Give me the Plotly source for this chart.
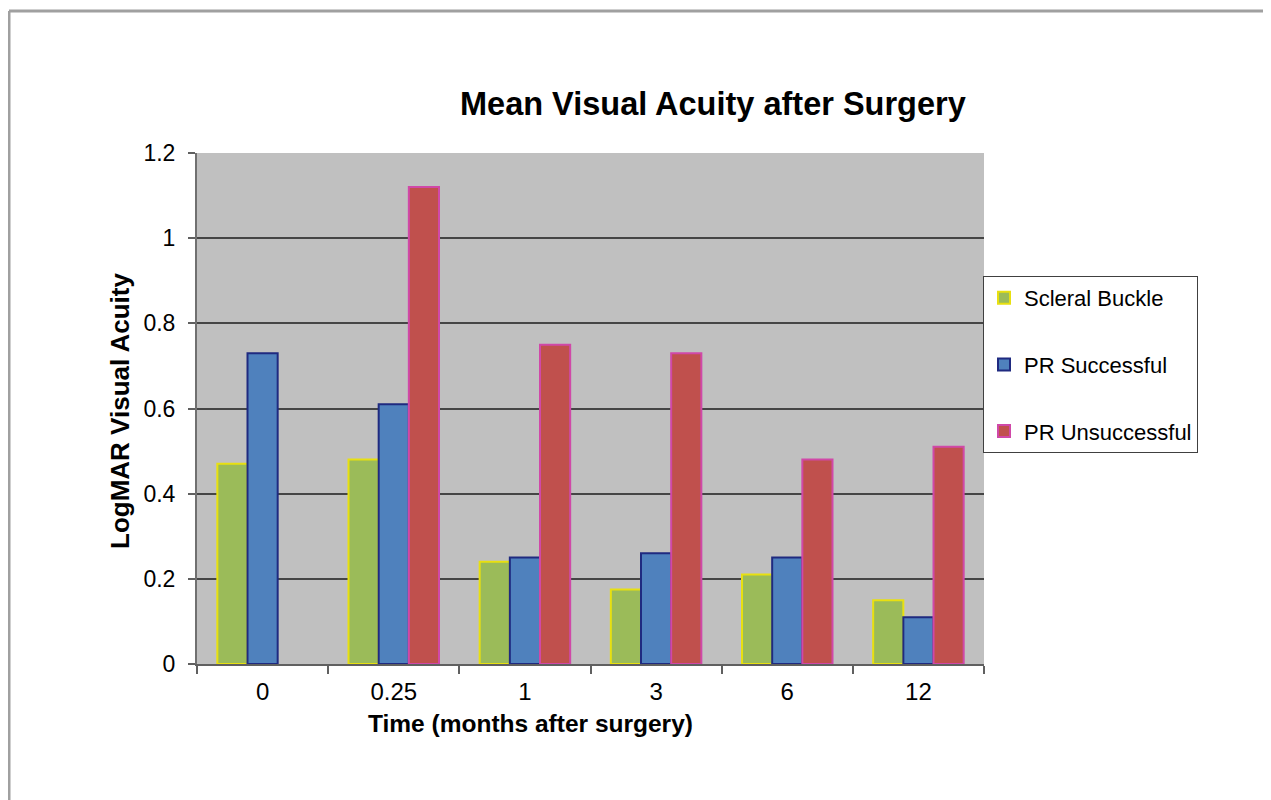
import plotly.graph_objects as go

# Data
categories = ["0", "0.25", "1", "3", "6", "12"]
scleral_buckle = [0.47, 0.48, 0.24, 0.175, 0.21, 0.15]
pr_successful = [0.73, 0.61, 0.25, 0.26, 0.25, 0.11]
pr_unsuccessful = [None, 1.12, 0.75, 0.73, 0.48, 0.51]
series_names = ["Scleral Buckle", "PR Successful", "PR Unsuccessful"]

fills = ["#9bbb59", "#4f81bd", "#c0504d"]
outlines = ["#e8e010", "#1f2a80", "#d048a8"]

OFF = 8  # page body margin
W, H = 1271 - OFF, 800 - OFF
L, R, T, B = 197, 984, 153, 664  # in page pixels


def px(x):
    return (x - L) / (R - L)


def py(y):
    return (B - y) / (B - T)


FONT = "Arial, Liberation Sans, sans-serif"

fig = go.Figure()
for name, vals, fc, lc in zip(series_names, [scleral_buckle, pr_successful, pr_unsuccessful], fills, outlines):
    fig.add_trace(go.Bar(
        x=categories, y=vals, name=name, legendgroup=name,
        marker=dict(color=fc, line=dict(color=lc, width=2)),
    ))

fig.update_layout(
    width=W, height=H,
    margin=dict(l=L - OFF, r=1271 - R, t=T - OFF, b=800 - B, autoexpand=False),
    paper_bgcolor="white", plot_bgcolor="#c0c0c0",
    barmode="group", bargap=0.31, bargroupgap=0,
    font=dict(family=FONT, color="black", size=22),
    showlegend=True,
    legend=dict(
        x=px(983), y=py(276), xanchor="left", yanchor="top",
        bgcolor="white", bordercolor="#404040", borderwidth=1,
        font=dict(size=22, family=FONT), tracegroupgap=35,
        traceorder="grouped",
    ),
    xaxis=dict(
        type="category", showgrid=False, showline=True, linecolor="#606060", linewidth=2,
        ticks="outside", tickson="boundaries", ticklen=8, tickwidth=2, tickcolor="#606060",
        tickfont=dict(size=24), ticklabelstandoff=5, zeroline=False,
    ),
    yaxis=dict(
        range=[0, 1.2], tickvals=[0, 0.2, 0.4, 0.6, 0.8, 1.0, 1.2],
        ticktext=["0", "0.2", "0.4", "0.6", "0.8", "1", "1.2"],
        showgrid=True, gridcolor="#454545", gridwidth=2,
        showline=True, linecolor="#707070", linewidth=2,
        ticks="outside", ticklen=7, tickwidth=2, tickcolor="#606060",
        tickfont=dict(size=23), ticklabelstandoff=8, zeroline=False,
    ),
    annotations=[
        dict(text="<b>Mean Visual Acuity after Surgery</b>", xref="paper", yref="paper",
             x=px(713), y=py(104), xanchor="center", yanchor="middle",
             showarrow=False, font=dict(size=32.5, family=FONT)),
        dict(text="<b>Time (months after surgery)</b>", xref="paper", yref="paper",
             x=px(530), y=py(723), xanchor="center", yanchor="middle",
             showarrow=False, font=dict(size=24.5, family=FONT)),
        dict(text="<b>LogMAR Visual Acuity</b>", xref="paper", yref="paper",
             x=px(120), y=py(411), xanchor="center", yanchor="middle", textangle=-90,
             showarrow=False, font=dict(size=26, family=FONT)),
    ],
    shapes=[
        dict(type="line", xref="paper", yref="paper", x0=px(9), x1=px(1290), y0=py(11), y1=py(11),
             line=dict(color="#a0a0a0", width=3)),
        dict(type="line", xref="paper", yref="paper", x0=px(9), x1=px(9), y0=py(11), y1=py(820),
             line=dict(color="#a0a0a0", width=3)),
    ],
)

fig.write_html("out.html")
